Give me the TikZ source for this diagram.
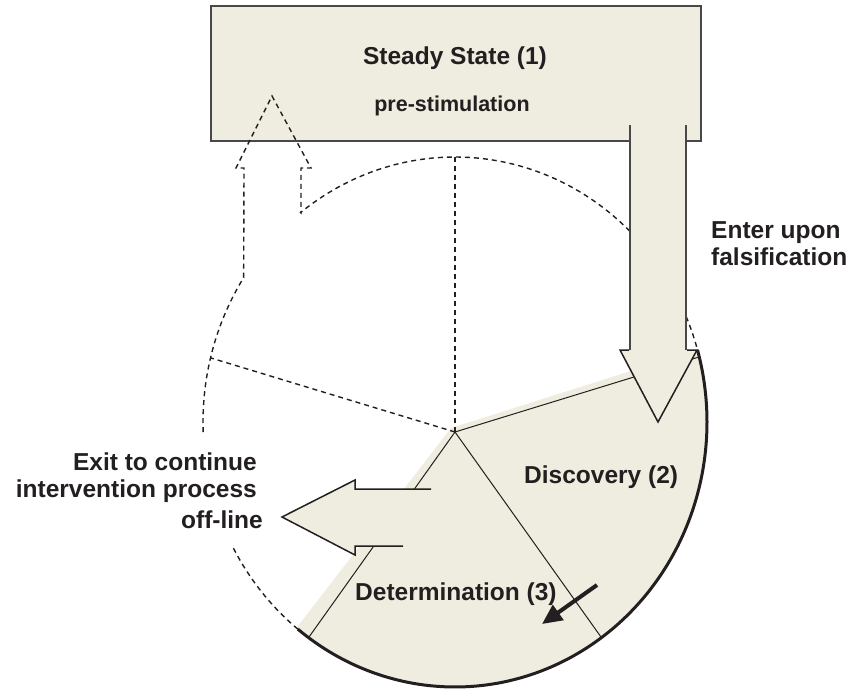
\documentclass[tikz,border=0pt]{standalone}
\usepackage{fontspec}
\setmainfont{Liberation Sans}
\usetikzlibrary{arrows.meta}
\definecolor{paper}{RGB}{238,237,223}
\definecolor{ink}{RGB}{35,31,32}
\definecolor{rim}{RGB}{72,72,72}
\begin{document}
\begin{tikzpicture}[x=1pt,y=-1pt,
  font=\bfseries\fontsize{24.5}{27}\selectfont,
  txt/.style={text=ink, inner sep=0pt},
  dashline/.style={draw=ink, line width=1.4pt, dash pattern=on 5pt off 4pt},
  spoke/.style={draw=ink, line width=1pt},
  outline/.style={draw=ink, line width=1.5pt, line join=miter},
  shaftline/.style={draw=rim, line width=2pt}]
\useasboundingbox (0,0) rectangle (848,690);

% hub of the cycle and the ends of its spokes
\coordinate (hub) at (455,432);
\coordinate (top) at (455,157);
\coordinate (upleft) at (211,358);
\coordinate (disc) at (699,357);
\coordinate (lowright) at (601,637);
\coordinate (lowleft) at (309,637);

% active part of the cycle (discovery and determination)
\fill[paper] (451,428) -- plot[domain=15.8:-129,samples=90]
  ({455+252*cos(\x)},{422-265*sin(\x)}) -- cycle;

% inactive rim of the cycle, lower left
\draw[dashline] plot[domain=231.4:208.1,samples=30]
  ({455+252*cos(\x)},{422-265*sin(\x)});

% spokes
\draw[dashline] (hub) -- (top);
\draw[dashline] (hub) -- (upleft);
\draw[spoke] (hub) -- (disc);
\draw[spoke] (hub) -- (lowright);
\draw[spoke] (hub) -- (lowleft);

% steady state box
\node[draw=rim, fill=paper, line width=2pt, minimum width=490pt,
  minimum height=135pt, inner sep=0pt, anchor=north west] (steady) at (210,5) {};
\node[txt, anchor=base] (ssl) at (455,65) {Steady State (1)};
\node[txt, anchor=base, font=\bfseries\fontsize{21.5}{24}\selectfont] (pre) at (452,112) {pre-stimulation};

% return path: rim of the cycle back up into the steady state
\draw[dashline] plot[domain=182.2:147,samples=30]
  ({455+252*cos(\x)},{422-265*sin(\x)})
  -- (244,168) -- (236,168) -- (272,96) -- (311,168) -- (301,168) -- (301,213)
  -- plot[domain=127.8:15.8,samples=90]
  ({455+252*cos(\x)},{422-265*sin(\x)});

% entry arrow from the steady state into discovery
\fill[paper] (630,125) -- (630,350) -- (620,350) -- (658,422) -- (697,350)
  -- (686,350) -- (686,125) -- cycle;
\draw[shaftline] (630,125) -- (630,350);
\draw[shaftline] (686,350) -- (686,125);
\draw[outline] (629,350) -- (620,350) -- (658,422) -- (697,350) -- (687,350);

% active rim
\draw[ink, line width=3pt] plot[domain=15.8:-128.6,samples=120]
  ({455+252*cos(\x)},{422-265*sin(\x)});

% exit arrow
\fill[paper] (431,489) -- (355,489) -- (355,480) -- (282,517) -- (355,555)
  -- (355,546) -- (403,546) -- cycle;
\draw[outline] (431,489) -- (355,489) -- (355,480) -- (282,517) -- (355,555)
  -- (355,546) -- (403,546);

% labels
\node[txt, anchor=base west] (enter1) at (711,238) {Enter upon};
\node[txt, anchor=base west] (enter2) at (711,265) {falsification};
\node[txt, anchor=base east] (exit1) at (257,470) {Exit to continue};
\node[txt, anchor=base east] (exit2) at (257,497) {intervention process};
\node[txt, anchor=base east] (exit3) at (263,528) {off-line};
\node[txt, anchor=base west] (discovery) at (524,483) {Discovery (2)};
\node[txt, anchor=base west] (determ) at (355,600) {Determination (3)};

% direction of travel around the cycle
\coordinate (dirA) at (597,585);
\coordinate (dirB) at (542,624);
\draw[ink, line width=4pt, -{Triangle[length=20pt,width=18pt]}] (dirA) -- (dirB);
\end{tikzpicture}
\end{document}
